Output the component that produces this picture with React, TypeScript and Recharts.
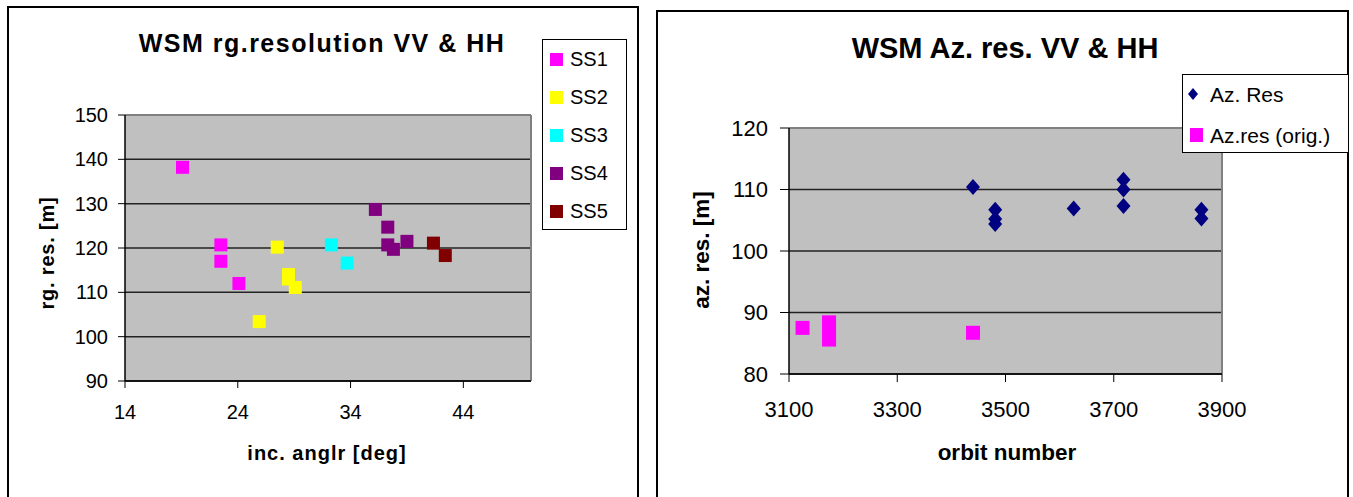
import React from 'react';
import { ScatterChart, Scatter, XAxis, YAxis, CartesianGrid, ReferenceLine } from 'recharts';

const FONT = '"Liberation Sans", Arial, sans-serif';

// ---- Left chart: WSM rg.resolution VV & HH ----
const incAngleTicks = [14, 24, 34, 44];
const rgResTicks = [90, 100, 110, 120, 130, 140, 150];

const ss1Angle = [19.1, 22.5, 22.5, 24.1];
const ss1Res = [138.2, 120.7, 117.0, 112.0];
const ss2Angle = [27.5, 28.5, 28.5, 29.1, 25.9];
const ss2Res = [120.2, 114.0, 113.0, 111.1, 103.4];
const ss3Angle = [32.3, 33.7];
const ss3Res = [120.7, 116.6];
const ss4Angle = [36.2, 37.3, 37.3, 37.8, 39.0];
const ss4Res = [128.7, 124.7, 120.7, 119.7, 121.5];
const ss5Angle = [41.35, 42.4];
const ss5Res = [121.1, 118.3];

const subSwathNames = ['SS1', 'SS2', 'SS3', 'SS4', 'SS5'];
const subSwathColors = ['#FF00FF', '#FFFF00', '#00FFFF', '#800080', '#800000'];

// ---- Right chart: WSM Az. res. VV & HH ----
const orbitTicks = [3100, 3300, 3500, 3700, 3900];
const azResTicks = [80, 90, 100, 110, 120];

const azOrbit = [3440, 3481, 3481, 3481, 3626, 3718, 3718, 3718, 3862, 3862];
const azRes = [110.4, 106.7, 105.2, 104.4, 106.9, 111.6, 110.0, 107.3, 106.7, 105.3];
const azOrigOrbit = [3125, 3174, 3174, 3174, 3440];
const azOrigRes = [87.5, 88.4, 87.0, 85.6, 86.7];

const zip = (xs: number[], ys: number[]) => xs.map((x, i) => ({ x, y: ys[i] }));

const leftSeries = [
  zip(ss1Angle, ss1Res),
  zip(ss2Angle, ss2Res),
  zip(ss3Angle, ss3Res),
  zip(ss4Angle, ss4Res),
  zip(ss5Angle, ss5Res),
];

const squareShape = (size: number, color: string) => (props: any) => (
  <rect x={props.cx - size / 2} y={props.cy - size / 2} width={size} height={size} fill={color} />
);

const diamondShape = (hw: number, hh: number, color: string) => (props: any) => (
  <polygon
    points={`${props.cx},${props.cy - hh} ${props.cx + hw},${props.cy} ${props.cx},${props.cy + hh} ${props.cx - hw},${props.cy}`}
    fill={color}
  />
);

const abs = (left: number, top: number, extra: React.CSSProperties = {}): React.CSSProperties => ({
  position: 'absolute',
  left,
  top,
  fontFamily: FONT,
  color: '#000',
  whiteSpace: 'nowrap',
  ...extra,
});

const centered = (cx: number, cy: number, extra: React.CSSProperties = {}): React.CSSProperties =>
  abs(cx, cy, { transform: 'translate(-50%, -50%)', ...extra });

export default function App() {
  return (
    <div style={{ position: 'absolute', left: 0, top: 0, width: 1353, height: 497, overflow: 'hidden', background: '#fff' }}>
      {/* Left panel border */}
      <div style={{ position: 'absolute', left: 7, top: 6, width: 632, height: 520, border: '2px solid #000', boxSizing: 'border-box' }} />
      {/* Right panel border */}
      <div style={{ position: 'absolute', left: 656, top: 10, width: 693, height: 520, border: '2px solid #000', boxSizing: 'border-box' }} />

      {/* Left chart */}
      <div style={{ position: 'absolute', left: 0, top: 0 }}>
        <ScatterChart width={640} height={497} margin={{ top: 115, right: 109, bottom: 86, left: 55 }}>
          <CartesianGrid vertical={false} stroke="#222" strokeWidth={1.5} fill="#C0C0C0" fillOpacity={1} />
          <XAxis
            type="number"
            dataKey="x"
            domain={[14, 50]}
            ticks={incAngleTicks}
            allowDataOverflow
            height={30}
            tickSize={7}
            tickMargin={17}
            axisLine={{ stroke: '#000', strokeWidth: 1.5 }}
            tickLine={{ stroke: '#000', strokeWidth: 1 }}
            tick={{ fill: '#000', fontSize: 20, fontFamily: FONT }}
          />
          <YAxis
            type="number"
            dataKey="y"
            domain={[90, 150]}
            ticks={rgResTicks}
            allowDataOverflow
            width={70}
            tickSize={7}
            tickMargin={10}
            axisLine={{ stroke: '#000', strokeWidth: 1.5 }}
            tickLine={{ stroke: '#000', strokeWidth: 1 }}
            tick={{ fill: '#000', fontSize: 20, fontFamily: FONT }}
          />
          <ReferenceLine y={150} stroke="#808080" strokeWidth={2} />
          <ReferenceLine x={50} stroke="#808080" strokeWidth={2} />
          {leftSeries.map((d, i) => (
            <Scatter
              key={subSwathNames[i]}
              name={subSwathNames[i]}
              data={d}
              fill={subSwathColors[i]}
              shape={squareShape(13, subSwathColors[i])}
              isAnimationActive={false}
            />
          ))}
        </ScatterChart>
      </div>

      {/* Right chart */}
      <div style={{ position: 'absolute', left: 650, top: 0 }}>
        <ScatterChart width={703} height={497} margin={{ top: 128, right: 131, bottom: 93, left: 69 }}>
          <CartesianGrid vertical={false} stroke="#222" strokeWidth={1.5} fill="#C0C0C0" fillOpacity={1} />
          <XAxis
            type="number"
            dataKey="x"
            domain={[3100, 3900]}
            ticks={orbitTicks}
            allowDataOverflow
            height={30}
            tickSize={8}
            tickMargin={19}
            axisLine={{ stroke: '#000', strokeWidth: 1.5 }}
            tickLine={{ stroke: '#000', strokeWidth: 1 }}
            tick={{ fill: '#000', fontSize: 22, fontFamily: FONT }}
          />
          <YAxis
            type="number"
            dataKey="y"
            domain={[80, 120]}
            ticks={azResTicks}
            allowDataOverflow
            width={70}
            tickSize={9}
            tickMargin={12}
            axisLine={{ stroke: '#000', strokeWidth: 1.5 }}
            tickLine={{ stroke: '#000', strokeWidth: 1 }}
            tick={{ fill: '#000', fontSize: 22, fontFamily: FONT }}
          />
          <ReferenceLine y={120} stroke="#808080" strokeWidth={2} />
          <ReferenceLine x={3900} stroke="#808080" strokeWidth={2} />
          <Scatter
            name="Az. Res"
            data={zip(azOrbit, azRes)}
            fill="#000080"
            shape={diamondShape(7, 8, '#000080')}
            isAnimationActive={false}
          />
          <Scatter
            name="Az.res (orig.)"
            data={zip(azOrigOrbit, azOrigRes)}
            fill="#FF00FF"
            shape={squareShape(14, '#FF00FF')}
            isAnimationActive={false}
          />
        </ScatterChart>
      </div>

      {/* Left titles */}
      <div style={centered(322, 43, { fontSize: 25, fontWeight: 'bold', letterSpacing: 1.5 })}>WSM rg.resolution VV &amp; HH</div>
      <div style={centered(327, 453, { fontSize: 20, fontWeight: 'bold', letterSpacing: 1 })}>inc. anglr [deg]</div>
      <div style={centered(47, 253, { fontSize: 20, fontWeight: 'bold', letterSpacing: 0.8, transform: 'translate(-50%, -50%) rotate(-90deg)' })}>rg. res. [m]</div>

      {/* Left legend */}
      <div style={{ position: 'absolute', left: 542, top: 39, width: 85, height: 191, border: '1.5px solid #000', boxSizing: 'border-box', background: '#fff' }} />
      {subSwathNames.map((n, i) => (
        <React.Fragment key={n}>
          <div style={{ position: 'absolute', left: 550, top: 59 + i * 38 - 6.5, width: 13, height: 13, background: subSwathColors[i] }} />
          <div style={abs(570, 59 + i * 38, { fontSize: 20, transform: 'translateY(-50%)', lineHeight: 1 })}>{n}</div>
        </React.Fragment>
      ))}

      {/* Right titles */}
      <div style={centered(1005, 48, { fontSize: 29, fontWeight: 'bold' })}>WSM Az. res. VV &amp; HH</div>
      <div style={centered(1007, 453, { fontSize: 22.5, fontWeight: 'bold' })}>orbit number</div>
      <div style={centered(702, 250, { fontSize: 22.5, fontWeight: 'bold', transform: 'translate(-50%, -50%) rotate(-90deg)' })}>az. res. [m]</div>

      {/* Right legend */}
      <div style={{ position: 'absolute', left: 1182, top: 74, width: 167, height: 79, border: '1.5px solid #000', boxSizing: 'border-box', background: '#fff' }} />
      <svg style={{ position: 'absolute', left: 1186, top: 87 }} width={14} height={14}>
        <polygon points="7,1 12,7 7,13 2,7" fill="#000080" />
      </svg>
      <div style={abs(1210, 94, { fontSize: 21, transform: 'translateY(-50%)', lineHeight: 1 })}>Az. Res</div>
      <div style={{ position: 'absolute', left: 1190, top: 128, width: 13, height: 14, background: '#FF00FF' }} />
      <div style={abs(1210, 135, { fontSize: 21, transform: 'translateY(-50%)', lineHeight: 1 })}>Az.res (orig.)</div>
    </div>
  );
}
